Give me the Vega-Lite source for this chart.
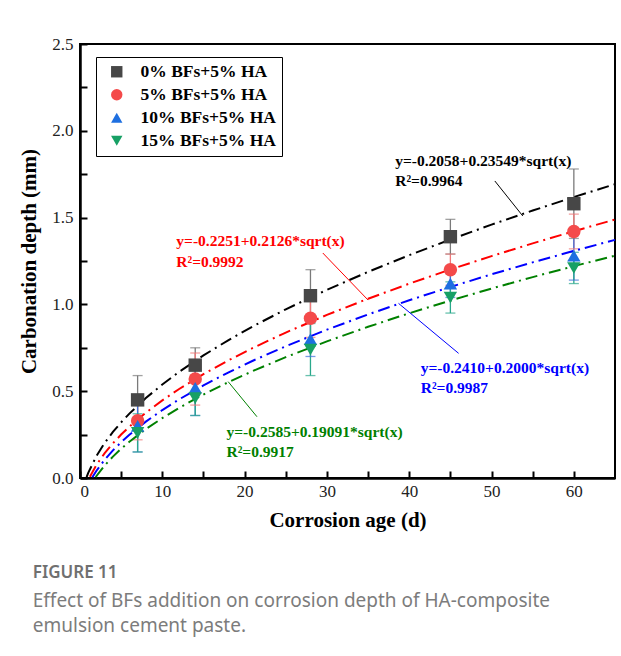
{
"$schema":"https://vega.github.io/schema/vega-lite/v6.json",
"autosize":{"type":"none"},
"padding":{"left":80,"top":44,"right":6,"bottom":178},
"width":535,"height":434,
"background":"white",
"config":{
 "view":{"stroke":"black","strokeWidth":2},
 "axis":{"domainColor":"black","domainWidth":2.5,"tickColor":"black","tickWidth":2,"grid":false,
  "labelFont":"Liberation Serif","labelFontSize":17,"labelColor":"#222",
  "titleFont":"Liberation Serif","titleFontSize":21,"titleFontWeight":"bold","titleColor":"black"},
 "legend":{"orient":"none","legendX":16,"legendY":13,"strokeColor":"black","strokeWidth":1,"fillColor":"white",
  "padding":6,"symbolOffset":6,"labelFont":"Liberation Serif","labelFontSize":17.5,"labelFontWeight":"bold","labelColor":"black",
  "symbolSize":130,"rowPadding":4,"labelOffset":15,"symbolStrokeWidth":0}
},
"title":{"text":"FIGURE 11","subtitle":["Effect of BFs addition on corrosion depth of HA-composite","emulsion cement paste."],
 "orient":"bottom","anchor":"start","dx":14,"offset":35,"font":"Noto Sans","fontSize":17,"fontWeight":600,"color":"#707070",
 "subtitleFont":"Noto Sans","subtitleFontSize":19,"subtitleColor":"#7c7c7c","subtitleLineHeight":25,"subtitlePadding":10},
"datasets":{
 "pts":[
  {"s":"0% BFs+5% HA","age":7,"d":0.45,"lo":0.31,"hi":0.59},
  {"s":"0% BFs+5% HA","age":14,"d":0.65,"lo":0.55,"hi":0.75},
  {"s":"0% BFs+5% HA","age":28,"d":1.05,"lo":0.90,"hi":1.20},
  {"s":"0% BFs+5% HA","age":45,"d":1.39,"lo":1.29,"hi":1.49},
  {"s":"0% BFs+5% HA","age":60,"d":1.58,"lo":1.38,"hi":1.78},
  {"s":"5% BFs+5% HA","age":7,"d":0.33,"lo":0.22,"hi":0.44},
  {"s":"5% BFs+5% HA","age":14,"d":0.57,"lo":0.42,"hi":0.72},
  {"s":"5% BFs+5% HA","age":28,"d":0.92,"lo":0.81,"hi":1.03},
  {"s":"5% BFs+5% HA","age":45,"d":1.20,"lo":1.11,"hi":1.29},
  {"s":"5% BFs+5% HA","age":60,"d":1.42,"lo":1.32,"hi":1.52},
  {"s":"10% BFs+5% HA","age":7,"d":0.30,"lo":0.15,"hi":0.45},
  {"s":"10% BFs+5% HA","age":14,"d":0.52,"lo":0.36,"hi":0.68},
  {"s":"10% BFs+5% HA","age":28,"d":0.80,"lo":0.70,"hi":0.90},
  {"s":"10% BFs+5% HA","age":45,"d":1.12,"lo":1.04,"hi":1.20},
  {"s":"10% BFs+5% HA","age":60,"d":1.28,"lo":1.14,"hi":1.42},
  {"s":"15% BFs+5% HA","age":7,"d":0.26,"lo":0.15,"hi":0.37},
  {"s":"15% BFs+5% HA","age":14,"d":0.46,"lo":0.36,"hi":0.56},
  {"s":"15% BFs+5% HA","age":28,"d":0.74,"lo":0.59,"hi":0.89},
  {"s":"15% BFs+5% HA","age":45,"d":1.04,"lo":0.95,"hi":1.13},
  {"s":"15% BFs+5% HA","age":60,"d":1.21,"lo":1.12,"hi":1.30}
 ],
 "fits":[
  {"s":"0% BFs+5% HA","age":0.8,"d":0.0048},{"s":"0% BFs+5% HA","age":1,"d":0.0297},{"s":"0% BFs+5% HA","age":2,"d":0.1272},{"s":"0% BFs+5% HA","age":3,"d":0.2021},{"s":"0% BFs+5% HA","age":4,"d":0.2652},{"s":"0% BFs+5% HA","age":5,"d":0.3208},{"s":"0% BFs+5% HA","age":6,"d":0.3710},{"s":"0% BFs+5% HA","age":8,"d":0.4603},{"s":"0% BFs+5% HA","age":10,"d":0.5389},{"s":"0% BFs+5% HA","age":12,"d":0.6100},{"s":"0% BFs+5% HA","age":15,"d":0.7062},{"s":"0% BFs+5% HA","age":18,"d":0.7933},{"s":"0% BFs+5% HA","age":21,"d":0.8734},{"s":"0% BFs+5% HA","age":25,"d":0.9717},{"s":"0% BFs+5% HA","age":30,"d":1.0840},{"s":"0% BFs+5% HA","age":35,"d":1.1874},{"s":"0% BFs+5% HA","age":40,"d":1.2836},{"s":"0% BFs+5% HA","age":45,"d":1.3739},{"s":"0% BFs+5% HA","age":50,"d":1.4594},{"s":"0% BFs+5% HA","age":55,"d":1.5406},{"s":"0% BFs+5% HA","age":60,"d":1.6183},{"s":"0% BFs+5% HA","age":65,"d":1.6928},
  {"s":"5% BFs+5% HA","age":1.2,"d":0.0078},{"s":"5% BFs+5% HA","age":2,"d":0.0756},{"s":"5% BFs+5% HA","age":3,"d":0.1431},{"s":"5% BFs+5% HA","age":4,"d":0.2001},{"s":"5% BFs+5% HA","age":5,"d":0.2503},{"s":"5% BFs+5% HA","age":6,"d":0.2957},{"s":"5% BFs+5% HA","age":8,"d":0.3762},{"s":"5% BFs+5% HA","age":10,"d":0.4472},{"s":"5% BFs+5% HA","age":12,"d":0.5114},{"s":"5% BFs+5% HA","age":15,"d":0.5983},{"s":"5% BFs+5% HA","age":18,"d":0.6769},{"s":"5% BFs+5% HA","age":21,"d":0.7492},{"s":"5% BFs+5% HA","age":25,"d":0.8379},{"s":"5% BFs+5% HA","age":30,"d":0.9394},{"s":"5% BFs+5% HA","age":35,"d":1.0327},{"s":"5% BFs+5% HA","age":40,"d":1.1195},{"s":"5% BFs+5% HA","age":45,"d":1.2011},{"s":"5% BFs+5% HA","age":50,"d":1.2782},{"s":"5% BFs+5% HA","age":55,"d":1.3516},{"s":"5% BFs+5% HA","age":60,"d":1.4217},{"s":"5% BFs+5% HA","age":65,"d":1.4889},
  {"s":"10% BFs+5% HA","age":1.5,"d":0.0040},{"s":"10% BFs+5% HA","age":2,"d":0.0418},{"s":"10% BFs+5% HA","age":3,"d":0.1054},{"s":"10% BFs+5% HA","age":4,"d":0.1590},{"s":"10% BFs+5% HA","age":5,"d":0.2062},{"s":"10% BFs+5% HA","age":6,"d":0.2489},{"s":"10% BFs+5% HA","age":8,"d":0.3247},{"s":"10% BFs+5% HA","age":10,"d":0.3915},{"s":"10% BFs+5% HA","age":12,"d":0.4518},{"s":"10% BFs+5% HA","age":15,"d":0.5336},{"s":"10% BFs+5% HA","age":18,"d":0.6075},{"s":"10% BFs+5% HA","age":21,"d":0.6755},{"s":"10% BFs+5% HA","age":25,"d":0.7590},{"s":"10% BFs+5% HA","age":30,"d":0.8544},{"s":"10% BFs+5% HA","age":35,"d":0.9422},{"s":"10% BFs+5% HA","age":40,"d":1.0239},{"s":"10% BFs+5% HA","age":45,"d":1.1006},{"s":"10% BFs+5% HA","age":50,"d":1.1732},{"s":"10% BFs+5% HA","age":55,"d":1.2422},{"s":"10% BFs+5% HA","age":60,"d":1.3082},{"s":"10% BFs+5% HA","age":65,"d":1.3715},
  {"s":"15% BFs+5% HA","age":1.9,"d":0.0047},{"s":"15% BFs+5% HA","age":2,"d":0.0115},{"s":"15% BFs+5% HA","age":3,"d":0.0722},{"s":"15% BFs+5% HA","age":4,"d":0.1233},{"s":"15% BFs+5% HA","age":5,"d":0.1684},{"s":"15% BFs+5% HA","age":6,"d":0.2091},{"s":"15% BFs+5% HA","age":8,"d":0.2815},{"s":"15% BFs+5% HA","age":10,"d":0.3452},{"s":"15% BFs+5% HA","age":12,"d":0.4028},{"s":"15% BFs+5% HA","age":15,"d":0.4809},{"s":"15% BFs+5% HA","age":18,"d":0.5515},{"s":"15% BFs+5% HA","age":21,"d":0.6164},{"s":"15% BFs+5% HA","age":25,"d":0.6961},{"s":"15% BFs+5% HA","age":30,"d":0.7872},{"s":"15% BFs+5% HA","age":35,"d":0.8709},{"s":"15% BFs+5% HA","age":40,"d":0.9489},{"s":"15% BFs+5% HA","age":45,"d":1.0222},{"s":"15% BFs+5% HA","age":50,"d":1.0914},{"s":"15% BFs+5% HA","age":55,"d":1.1573},{"s":"15% BFs+5% HA","age":60,"d":1.2203},{"s":"15% BFs+5% HA","age":65,"d":1.2807}
 ],
 "labels":[
  {"s":"0% BFs+5% HA","age":38.3,"d":1.826,"t":"y=-0.2058+0.23549*sqrt(x)"},
  {"s":"0% BFs+5% HA","age":38.3,"d":1.71,"t":"R²=0.9964"},
  {"s":"5% BFs+5% HA","age":11.7,"d":1.367,"t":"y=-0.2251+0.2126*sqrt(x)"},
  {"s":"5% BFs+5% HA","age":11.7,"d":1.246,"t":"R²=0.9992"},
  {"s":"10% BFs+5% HA","age":41.4,"d":0.632,"t":"y=-0.2410+0.2000*sqrt(x)"},
  {"s":"10% BFs+5% HA","age":41.4,"d":0.517,"t":"R²=0.9987"},
  {"s":"15% BFs+5% HA","age":17.8,"d":0.267,"t":"y=-0.2585+0.19091*sqrt(x)"},
  {"s":"15% BFs+5% HA","age":17.8,"d":0.152,"t":"R²=0.9917"}
 ],
 "leaders":[
  {"s":"0% BFs+5% HA","age":50.4,"d":1.711,"age2":53.8,"d2":1.509},
  {"s":"5% BFs+5% HA","age":29.5,"d":1.296,"age2":35.0,"d2":1.025},
  {"s":"10% BFs+5% HA","age":38.7,"d":1.006,"age2":46.0,"d2":0.718},
  {"s":"15% BFs+5% HA","age":18.0,"d":0.555,"age2":21.5,"d2":0.353}
 ]
},
"encoding":{
 "x":{"field":"age","type":"quantitative","scale":{"domain":[0,65],"nice":false,"zero":false},
  "axis":{"title":"Corrosion age (d)","values":[0,5,10,15,20,25,30,35,40,45,50,55,60],"labelExpr":"datum.value % 10 === 0 ? datum.label : ''","tickSize":-7,"labelPadding":12,"titlePadding":10}},
 "y":{"field":"d","type":"quantitative","scale":{"domain":[0,2.5],"nice":false,"zero":false},
  "axis":{"title":"Carbonation depth (mm)","values":[0,0.25,0.5,0.75,1,1.25,1.5,1.75,2,2.25,2.5],"labelExpr":"(datum.value*2) % 1 === 0 ? format(datum.value,'.1f') : ''","tickSize":-7,"labelPadding":14,"titlePadding":12}}
},
"layer":[
 {"data":{"name":"pts"},"mark":{"type":"rule","strokeWidth":1.3},
  "encoding":{"y":{"field":"lo","type":"quantitative","scale":{"domain":[0,2.5],"nice":false,"zero":false},
   "axis":{"title":"Carbonation depth (mm)","values":[0,0.25,0.5,0.75,1,1.25,1.5,1.75,2,2.25,2.5],"labelExpr":"(datum.value*2) % 1 === 0 ? format(datum.value,'.1f') : ''","tickSize":-7,"labelPadding":14,"titlePadding":12}},"y2":{"field":"hi"},
   "color":{"field":"s","type":"nominal","legend":null,"scale":{"domain":["0% BFs+5% HA","5% BFs+5% HA","10% BFs+5% HA","15% BFs+5% HA"],"range":["#7a7a7a","#f07878","#3f6fd8","#2aa88c"]}}}},
 {"data":{"name":"pts"},"mark":{"type":"tick","orient":"horizontal","size":10,"thickness":1.3},
  "encoding":{"y":{"field":"lo","type":"quantitative","scale":{"domain":[0,2.5],"nice":false,"zero":false},
   "axis":{"title":"Carbonation depth (mm)","values":[0,0.25,0.5,0.75,1,1.25,1.5,1.75,2,2.25,2.5],"labelExpr":"(datum.value*2) % 1 === 0 ? format(datum.value,'.1f') : ''","tickSize":-7,"labelPadding":14,"titlePadding":12}},
   "color":{"field":"s","type":"nominal","legend":null,"scale":{"domain":["0% BFs+5% HA","5% BFs+5% HA","10% BFs+5% HA","15% BFs+5% HA"],"range":["#7a7a7a","#f07878","#3f6fd8","#2aa88c"]}}}},
 {"data":{"name":"pts"},"mark":{"type":"tick","orient":"horizontal","size":10,"thickness":1.3},
  "encoding":{"y":{"field":"hi","type":"quantitative","scale":{"domain":[0,2.5],"nice":false,"zero":false},
   "axis":{"title":"Carbonation depth (mm)","values":[0,0.25,0.5,0.75,1,1.25,1.5,1.75,2,2.25,2.5],"labelExpr":"(datum.value*2) % 1 === 0 ? format(datum.value,'.1f') : ''","tickSize":-7,"labelPadding":14,"titlePadding":12}},
   "color":{"field":"s","type":"nominal","legend":null,"scale":{"domain":["0% BFs+5% HA","5% BFs+5% HA","10% BFs+5% HA","15% BFs+5% HA"],"range":["#7a7a7a","#f07878","#3f6fd8","#2aa88c"]}}}},
 {"data":{"name":"fits"},"mark":{"type":"line","strokeWidth":2,"strokeDash":[12,5,2,5]},
  "encoding":{"color":{"field":"s","type":"nominal","legend":null,"scale":{"domain":["0% BFs+5% HA","5% BFs+5% HA","10% BFs+5% HA","15% BFs+5% HA"],"range":["#000000","#ff0000","#0000ff","#008000"]}}}},
 {"data":{"name":"pts"},"mark":{"type":"point","filled":true,"opacity":1},
  "encoding":{
   "color":{"field":"s","type":"nominal","title":null,"scale":{"domain":["0% BFs+5% HA","5% BFs+5% HA","10% BFs+5% HA","15% BFs+5% HA"],"range":["#474747","#f44a4a","#1e6fe0","#17a065"]}},
   "shape":{"field":"s","type":"nominal","title":null,"scale":{"domain":["0% BFs+5% HA","5% BFs+5% HA","10% BFs+5% HA","15% BFs+5% HA"],"range":["square","circle","triangle-up","triangle-down"]}},
   "size":{"value":180}}},
 {"data":{"name":"leaders"},"mark":{"type":"rule","strokeWidth":1},
  "encoding":{"x2":{"field":"age2"},"y2":{"field":"d2"},
   "color":{"field":"s","type":"nominal","legend":null,"scale":{"domain":["0% BFs+5% HA","5% BFs+5% HA","10% BFs+5% HA","15% BFs+5% HA"],"range":["#000000","#ff0000","#0000ff","#008000"]}}}},
 {"data":{"name":"labels"},"mark":{"type":"text","align":"left","baseline":"middle","font":"Liberation Serif","fontWeight":"bold","fontSize":15.5},
  "encoding":{"text":{"field":"t"},
   "color":{"field":"s","type":"nominal","legend":null,"scale":{"domain":["0% BFs+5% HA","5% BFs+5% HA","10% BFs+5% HA","15% BFs+5% HA"],"range":["#000000","#ff0000","#0000ff","#008000"]}}}}
],
"resolve":{"scale":{"color":"independent","shape":"independent"}}
}
